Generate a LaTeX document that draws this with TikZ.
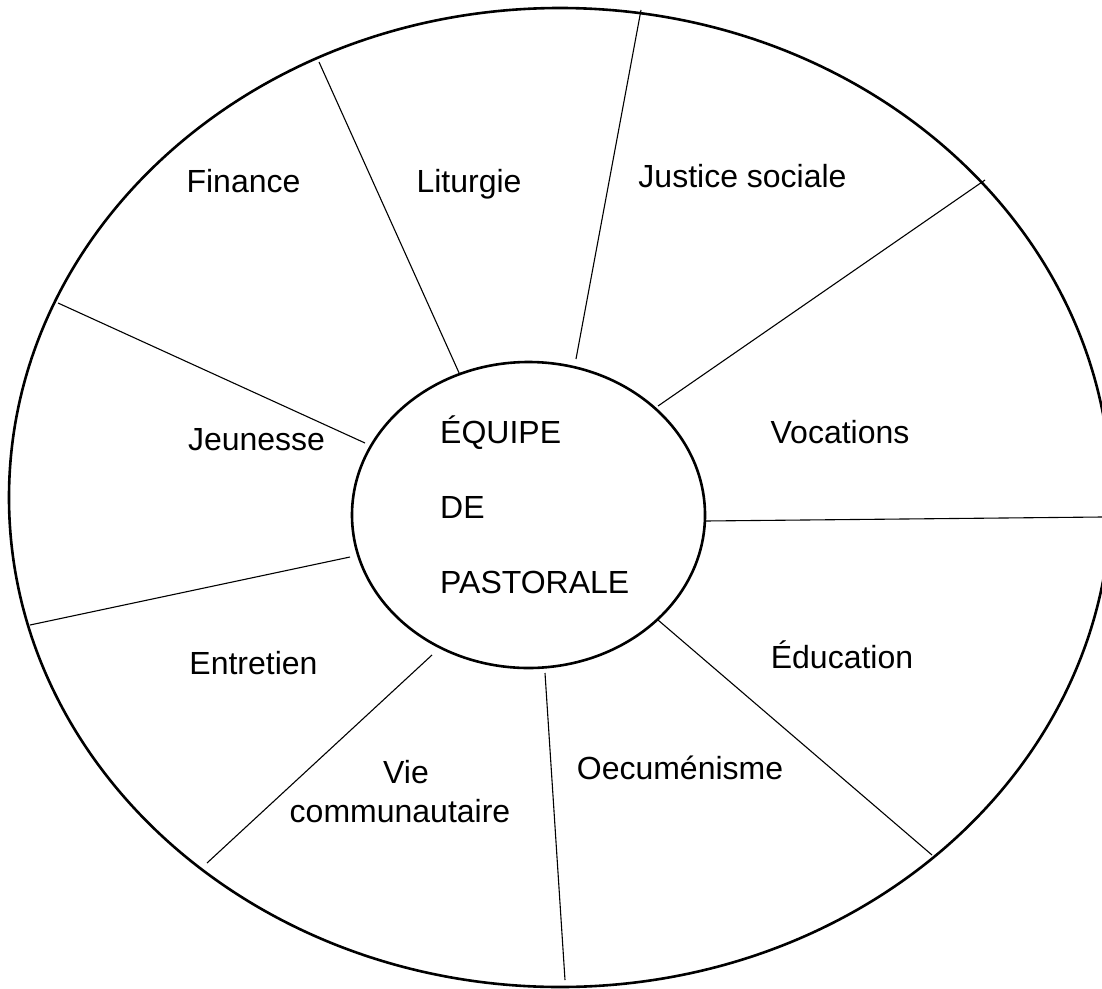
\documentclass[tikz,border=0pt]{standalone}
\usepackage{fontspec}
\setmainfont{Liberation Sans}
\usetikzlibrary{shapes.geometric}
\begin{document}
\begin{tikzpicture}[x=1pt,y=-1pt,
  ring/.style={draw, ellipse, line width=2.6pt, inner sep=0pt, outer sep=0pt},
  spoke/.style={line width=1.1pt},
  lbl/.style={anchor=base, inner sep=0pt, font=\fontsize{32}{38}\selectfont},
  core text/.style={anchor=base west, inner sep=0pt, font=\fontsize{32}{38}\selectfont}]
\useasboundingbox (0,0) rectangle (1102,988);
\fill[white] (0,0) rectangle (1102,988);
% ellipses
\node[ring, minimum width=1102pt, minimum height=979pt] (outer) at (560,497.5) {};
\node[ring, minimum width=353pt, minimum height=306pt] (core) at (528.5,515) {};
% spoke end points (inner / outer)
\coordinate (i1) at (460,375);  \coordinate (o1) at (319,62);
\coordinate (i2) at (576,359);  \coordinate (o2) at (641,10);
\coordinate (i3) at (658,406);  \coordinate (o3) at (985,180);
\coordinate (i4) at (705,521);  \coordinate (o4) at (1102,517);
\coordinate (i5) at (658,620);  \coordinate (o5) at (932,855);
\coordinate (i6) at (545,673);  \coordinate (o6) at (565,980);
\coordinate (i7) at (432,655);  \coordinate (o7) at (207,863);
\coordinate (i8) at (350,557);  \coordinate (o8) at (30,625);
\coordinate (i9) at (365,443);  \coordinate (o9) at (58,303);
\foreach \k in {1,...,9} \draw[spoke] (i\k) -- (o\k);
% centre text
\node[core text] (t1) at (440,443) {ÉQUIPE};
\node[core text] (t2) at (440,518) {DE};
\node[core text] (t3) at (440,593) {PASTORALE};
% sector labels
\node[lbl] (finance) at (243.5,192) {Finance};
\node[lbl] (liturgie) at (469,192) {Liturgie};
\node[lbl] (justice) at (742.5,187) {Justice sociale};
\node[lbl] (vocations) at (840,443) {Vocations};
\node[lbl] (jeunesse) at (256.5,450) {Jeunesse};
\node[lbl] (education) at (842,668) {Éducation};
\node[lbl] (entretien) at (253.5,674) {Entretien};
\node[lbl] (oecu) at (680,779) {Oecuménisme};
\node[lbl] (vie) at (406,783) {Vie};
\node[lbl] (commu) at (400,822) {communautaire};
\end{tikzpicture}
\end{document}
